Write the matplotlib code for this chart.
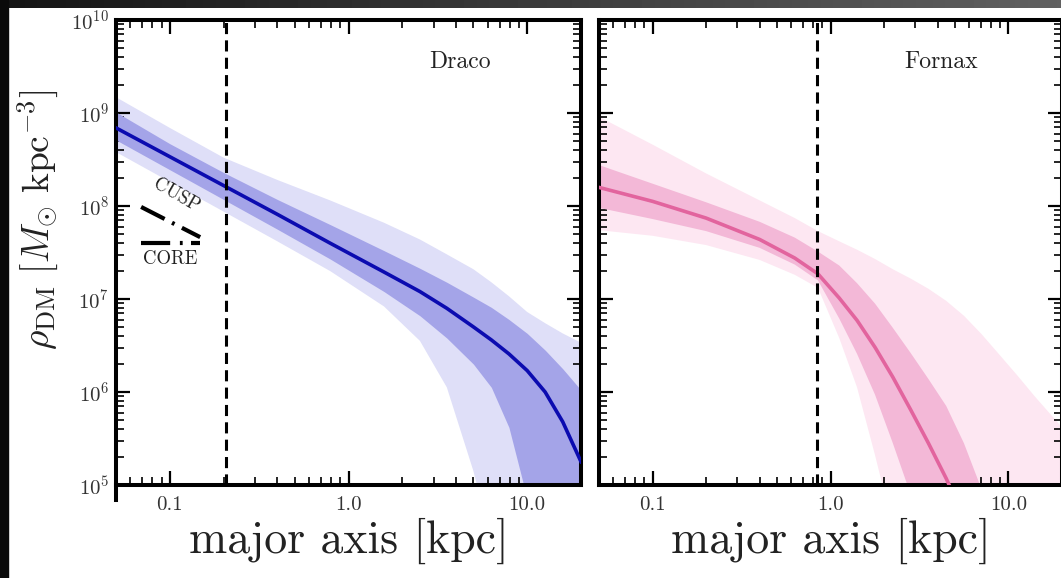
import numpy as np
import matplotlib.pyplot as plt
from matplotlib.patches import Rectangle
from matplotlib.lines import Line2D
from matplotlib.ticker import FixedLocator, FixedFormatter, LogLocator, NullFormatter

plt.rcParams['font.family'] = 'serif'
plt.rcParams['font.serif'] = ['cmr10']
plt.rcParams['mathtext.fontset'] = 'cm'
plt.rcParams['axes.formatter.use_mathtext'] = True
plt.rcParams['lines.scale_dashes'] = False

# radii along the major axis [kpc]
draco_r = np.array([0.05, 0.1, 0.2, 0.4, 0.79, 1.58, 2.51, 3.55, 5.0, 6.3, 7.9, 10.0, 12.6, 15.8, 20.0])
# log10 rho_DM [Msun/kpc^3]: median, 68% and 95% envelopes
draco_med = np.array([8.84, 8.53, 8.22, 7.91, 7.60, 7.29, 7.08, 6.90, 6.70, 6.56, 6.41, 6.23, 6.00, 5.68, 5.25])
draco_lo68 = np.array([8.71, 8.39, 8.07, 7.75, 7.43, 7.08, 6.82, 6.58, 6.30, 6.05, 5.62, 4.85, 4.20, 3.50, 2.80])
draco_hi68 = np.array([9.01, 8.67, 8.36, 8.07, 7.80, 7.52, 7.33, 7.18, 7.02, 6.91, 6.78, 6.63, 6.45, 6.25, 6.02])
draco_lo95 = np.array([8.58, 8.26, 7.94, 7.62, 7.30, 6.92, 6.55, 6.05, 5.15, 4.40, 3.70, 3.00, 2.50, 2.00, 1.50])
draco_hi95 = np.array([9.17, 8.84, 8.52, 8.28, 8.06, 7.82, 7.64, 7.48, 7.32, 7.18, 7.03, 6.86, 6.74, 6.63, 6.53])
draco_rhalf = 0.206

fornax_r = np.array([0.05, 0.1, 0.2, 0.4, 0.63, 0.85, 1.12, 1.41, 1.78, 2.24, 2.82, 3.55,
                     4.47, 5.62, 7.08, 8.91, 11.2, 14.1, 20.0])
fornax_med = np.array([8.20, 8.05, 7.87, 7.64, 7.44, 7.27, 7.01, 6.77, 6.48, 6.16, 5.81, 5.45,
                       5.07, 4.65, 4.20, 3.75, 3.30, 2.85, 2.20])
fornax_lo68 = np.array([7.98, 7.86, 7.73, 7.55, 7.37, 7.20, 6.79, 6.41, 5.97, 5.45, 4.90, 4.30,
                        3.70, 3.10, 2.50, 1.90, 1.30, 0.70, 0.00])
fornax_hi68 = np.array([8.44, 8.24, 8.04, 7.83, 7.66, 7.51, 7.36, 7.17, 6.95, 6.69, 6.42, 6.14,
                        5.85, 5.45, 4.95, 4.40, 3.90, 3.40, 2.60])
fornax_lo95 = np.array([7.74, 7.68, 7.58, 7.42, 7.26, 7.12, 6.58, 6.05, 5.32, 4.55, 3.80, 3.10,
                        2.40, 1.70, 1.00, 0.50, 0.00, -0.50, -1.00])
fornax_hi95 = np.array([8.96, 8.66, 8.35, 8.06, 7.87, 7.73, 7.62, 7.53, 7.43, 7.32, 7.22, 7.11,
                        6.98, 6.82, 6.62, 6.40, 6.18, 5.95, 5.62])
fornax_rhalf = 0.84

xtick_vals = [0.1, 1.0, 10.0]
xtick_text = ['0.1', '1.0', '10.0']

W, H = 1061, 578
fig = plt.figure(figsize=(W / 100, H / 100), dpi=100)
fig.patch.set_facecolor('white')

# dark frame around the slide
bar = fig.add_axes([0, 1 - 8 / H, 1, 8 / H])
bar.imshow(np.linspace(0.08, 0.38, 256)[None, :], cmap='gray', vmin=0, vmax=1, aspect='auto')
bar.axis('off')
fig.patches.append(Rectangle((0, 0), 8 / W, 1, transform=fig.transFigure, color='#0a0a0a', zorder=5))

ax1 = fig.add_axes([116 / W, 93 / H, 465 / W, 465 / H])
ax2 = fig.add_axes([599 / W, 93 / H, 463 / W, 465 / H])

panels = [
    (ax1, draco_r, draco_med, draco_lo68, draco_hi68, draco_lo95, draco_hi95, draco_rhalf,
     'Draco', '#0b0bb0', '#a4a4e8', '#dfdff8'),
    (ax2, fornax_r, fornax_med, fornax_lo68, fornax_hi68, fornax_lo95, fornax_hi95, fornax_rhalf,
     'Fornax', '#e2649e', '#f3b8d7', '#fde7f2'),
]

for ax, r, med, lo68, hi68, lo95, hi95, rhalf, name, c_line, c_68, c_95 in panels:
    ax.fill_between(r, 10**lo95, 10**hi95, color=c_95, lw=0, zorder=1)
    ax.fill_between(r, 10**lo68, 10**hi68, color=c_68, lw=0, zorder=2)
    ax.plot(r, 10**med, color=c_line, lw=2.6, zorder=3)
    ax.axvline(rhalf, color='k', lw=2.2, dashes=(8, 4.5), zorder=4)

    ax.set_xscale('log')
    ax.set_yscale('log')
    ax.set_xlim(0.05, 20)
    ax.set_ylim(1e5, 1e10)

    ax.xaxis.set_major_locator(FixedLocator(xtick_vals))
    ax.xaxis.set_major_formatter(FixedFormatter(xtick_text))
    ax.xaxis.set_minor_locator(LogLocator(base=10, subs=np.arange(2, 10)))
    ax.xaxis.set_minor_formatter(NullFormatter())
    ax.yaxis.set_major_locator(LogLocator(base=10, numticks=10))
    ax.yaxis.set_minor_locator(LogLocator(base=10, subs=np.arange(2, 10), numticks=20))
    ax.yaxis.set_minor_formatter(NullFormatter())

    ax.tick_params(which='both', direction='in', top=True, right=True,
                   labelsize=15, labelcolor='#333333')
    ax.tick_params(which='major', length=10, width=1.6)
    ax.tick_params(which='minor', length=5.5, width=1.2)
    ax.tick_params(axis='x', pad=8)
    ax.tick_params(axis='y', pad=5)
    for sp in ax.spines.values():
        sp.set_linewidth(2.9)

    ax.set_xlabel('major axis [kpc]', fontsize=33, labelpad=3, color='#222222')
    ax.text(0.74, 0.91, name, transform=ax.transAxes, fontsize=17,
            ha='center', va='center', color='#222222')

ax2.tick_params(axis='y', labelleft=False)

# left spine of the first panel sticks out below the x axis
ax1.add_line(Line2D([0, 0], [0, -0.033], transform=ax1.transAxes, color='k',
                    lw=2.9, clip_on=False))

# cusp / core key
ax1.plot([0.054, 0.181], [0.598, 0.533], transform=ax1.transAxes, color='k',
         lw=3, dashes=(19, 6, 2, 6), solid_capstyle='butt')
ax1.plot([0.054, 0.181], [0.520, 0.520], transform=ax1.transAxes, color='k',
         lw=3, dashes=(21, 7, 2, 6), solid_capstyle='butt')
ax1.text(0.130, 0.622, 'CUSP', transform=ax1.transAxes, fontsize=13.5,
         rotation=-30, ha='center', va='center', color='#222222')
ax1.text(0.116, 0.486, 'CORE', transform=ax1.transAxes, fontsize=13.5,
         ha='center', va='center', color='#222222')

fig.text(38 / W, 1 - 220 / H, r'$\rho_{\mathrm{DM}}\ [M_{\odot}\ \mathrm{kpc}^{-3}]$',
         rotation=90, fontsize=27, ha='center', va='center', color='#222222')

fig.savefig('out.png', dpi=100)
